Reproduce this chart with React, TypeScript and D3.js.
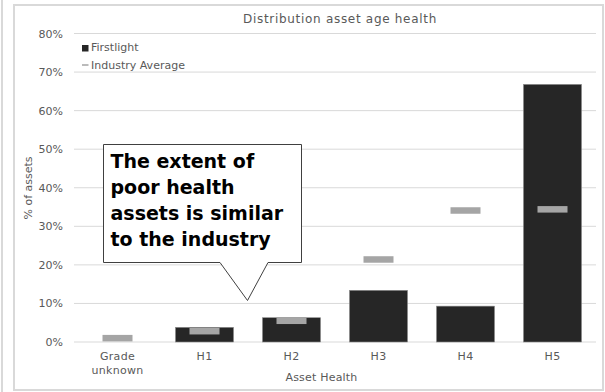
import React from "react";
import * as d3 from "d3";

const categories = ["Grade unknown", "H1", "H2", "H3", "H4", "H5"];
const firstlight = [0, 3.8, 6.3, 13.4, 9.3, 66.8];
const industryAverage = [1.0, 2.8, 5.5, 21.4, 34.1, 34.4];
const yTicks = [0, 10, 20, 30, 40, 50, 60, 70, 80];
const calloutLines = ["The extent of", "poor health", "assets is similar", "to the industry"];

const W = 605;
const H = 392;
const FONT = "'DejaVu Sans', sans-serif";
const TEXT = "#595959";

export default function App() {
  const x = d3
    .scaleBand<string>()
    .domain(categories)
    .range([74, 596])
    .paddingInner(0.333)
    .paddingOuter(0.1665);
  const y = d3.scaleLinear().domain([0, 80]).range([342, 33.5]);
  const markerW = 30;
  const markerH = 6.5;

  // callout geometry
  const box = { x0: 103.5, x1: 301.5, y0: 144.5, y1: 262.5 };
  const tip = { x: 247.5, y: 300.5 };
  const baseL = 220;
  const baseR = 268;
  const calloutPath = [
    `M${box.x0},${box.y0}`,
    `L${box.x1},${box.y0}`,
    `L${box.x1},${box.y1}`,
    `L${baseR},${box.y1}`,
    `L${tip.x},${tip.y}`,
    `L${baseL},${box.y1}`,
    `L${box.x0},${box.y1}`,
    "Z",
  ].join(" ");

  return (
    <svg
      width={W}
      height={H}
      style={{ position: "absolute", left: 0, top: 0, display: "block" }}
      fontFamily={FONT}
    >
      <rect x={0} y={0} width={W} height={H} fill="#fff" />
      <line x1={2} x2={2} y1={0} y2={H} stroke="#d9d9d9" strokeWidth={2} />
      <rect x={14} y={5} width={589} height={385} fill="#fff" stroke="#d9d9d9" strokeWidth={2} />

      <text x={340} y={23} textAnchor="middle" fontSize={12} letterSpacing={0.7} fill={TEXT}>
        Distribution asset age health
      </text>

      {yTicks.map((t) => (
        <g key={t}>
          <line x1={74} x2={596} y1={y(t)} y2={y(t)} stroke="#d9d9d9" strokeWidth={1} />
          <text x={63} y={y(t) + 4} textAnchor="end" fontSize={11} fill={TEXT}>
            {t}%
          </text>
        </g>
      ))}

      <text
        transform={`translate(32,188) rotate(-90)`}
        textAnchor="middle"
        fontSize={11}
        fill={TEXT}
      >
        % of assets
      </text>

      {categories.map((c, i) => (
        <rect
          key={c}
          x={x(c)!}
          y={y(firstlight[i])}
          width={x.bandwidth()}
          height={y(0) - y(firstlight[i])}
          fill="#262626"
          stroke="#8c8c8c"
          strokeWidth={firstlight[i] > 0 ? 0.6 : 0}
        />
      ))}

      {categories.map((c, i) => (
        <rect
          key={c}
          x={x(c)! + x.bandwidth() / 2 - markerW / 2}
          y={y(industryAverage[i]) - markerH / 2}
          width={markerW}
          height={markerH}
          fill="#a5a5a5"
        />
      ))}

      {categories.map((c) => {
        const cx = x(c)! + x.bandwidth() / 2;
        const parts = c === "Grade unknown" ? ["Grade", "unknown"] : [c];
        return (
          <text key={c} textAnchor="middle" fontSize={11} letterSpacing={0.3} fill={TEXT}>
            {parts.map((p, j) => (
              <tspan key={p} x={cx} y={359.5 + j * 14}>
                {p}
              </tspan>
            ))}
          </text>
        );
      })}

      <text x={321.5} y={381} textAnchor="middle" fontSize={11} letterSpacing={0.2} fill={TEXT}>
        Asset Health
      </text>

      {/* legend */}
      <rect x={82} y={45} width={6.5} height={6.5} fill="#262626" />
      <text x={91} y={51} fontSize={11} fill={TEXT}>
        Firstlight
      </text>
      <line x1={82} x2={88.5} y1={65} y2={65} stroke="#a5a5a5" strokeWidth={1.5} />
      <text x={91} y={69} fontSize={11} fill={TEXT}>
        Industry Average
      </text>

      {/* callout */}
      <path d={calloutPath} fill="#fff" stroke="#404040" strokeWidth={1} />
      {calloutLines.map((l, i) => (
        <text key={l} x={110.5} y={167.5 + i * 26} fontSize={19} fontWeight="bold" fill="#000">
          {l}
        </text>
      ))}
    </svg>
  );
}
